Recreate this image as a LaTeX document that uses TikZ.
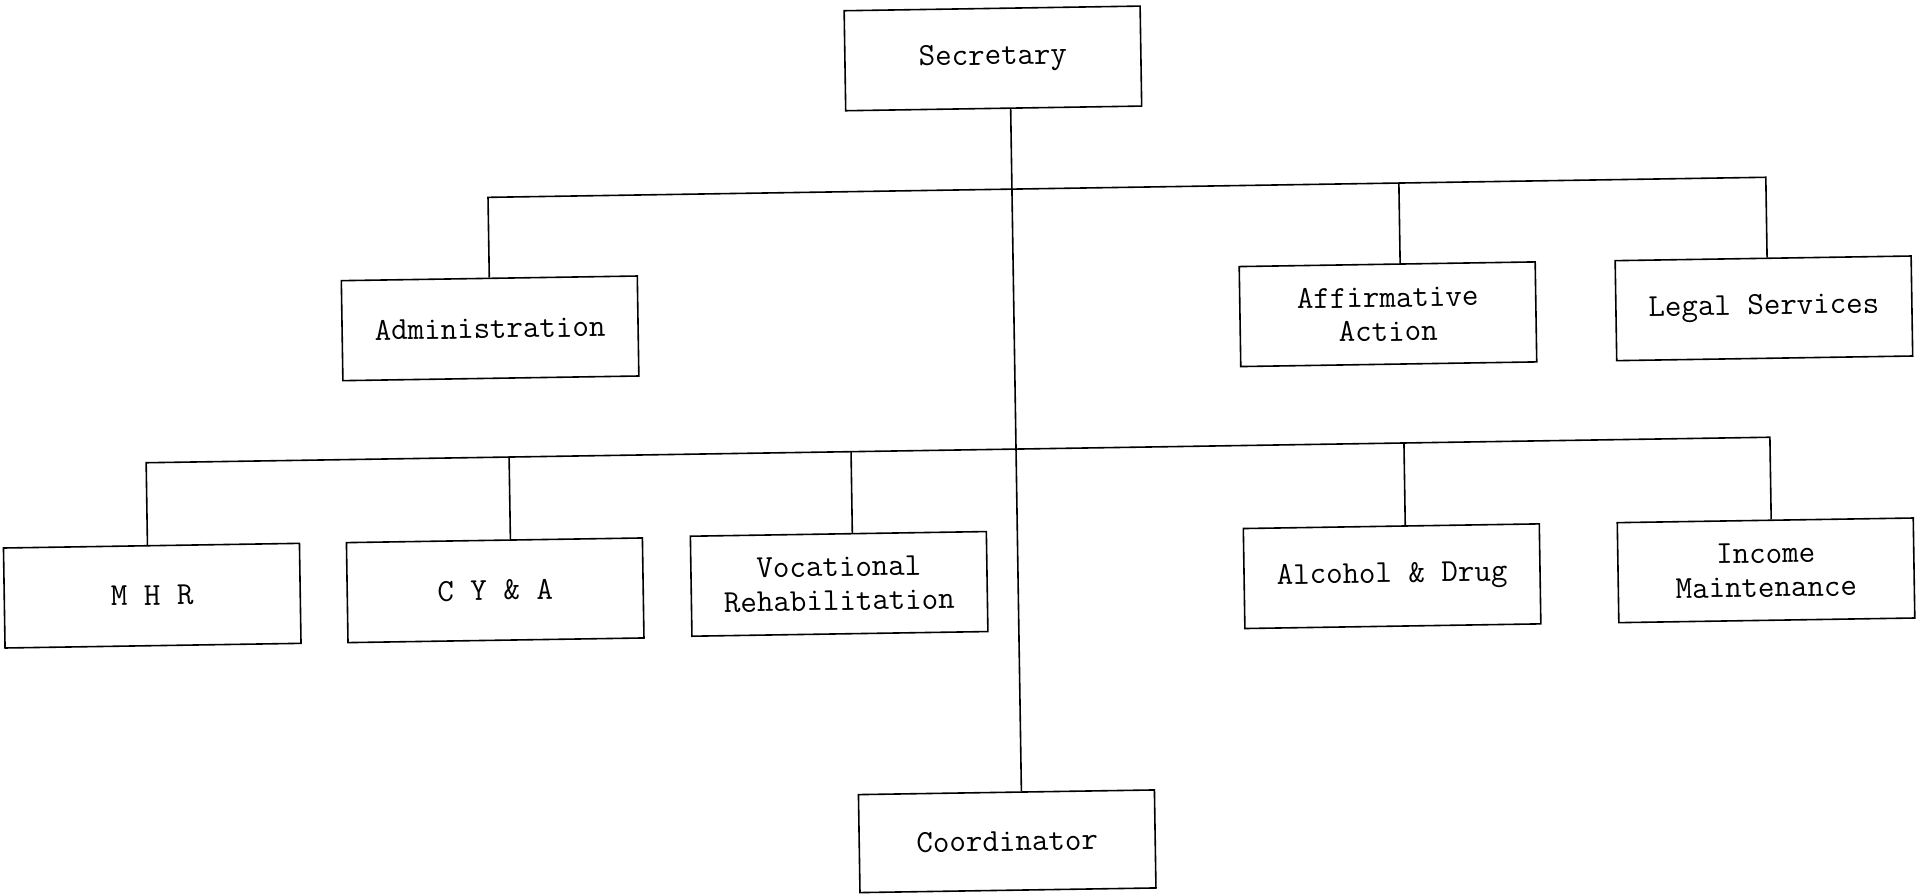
\documentclass[tikz,border=0pt]{standalone}
\usepackage{fontspec}
\begin{document}
\begin{tikzpicture}[x=1pt,y=-1pt,
  orgbox/.style={draw, line width=1.6pt, minimum width=296pt, minimum height=100pt,
    inner sep=0pt, align=center, font=\fontsize{32}{34}\selectfont\ttfamily},
  link/.style={line width=1.6pt}]
\useasboundingbox (0,0) rectangle (1916,894);
\begin{scope}[rotate around={0.9:(958,447)}, transform shape]
  % boxes
  \node[orgbox] (sec)   at (999,59)   {Secretary};
  \node[orgbox] (adm)   at (492,321)  {Administration};
  \node[orgbox] (aff)   at (1390,321) {Affirmative\\Action};
  \node[orgbox] (leg)   at (1766,321) {Legal Services};
  \node[orgbox] (mhr)   at (150,583)  {M H R};
  \node[orgbox] (cya)   at (493,583)  {C Y \& A};
  \node[orgbox] (voc)   at (837,582)  {Vocational\\Rehabilitation};
  \node[orgbox] (alc)   at (1390,583) {Alcohol \& Drug};
  \node[orgbox] (inc)   at (1764,583) {Income\\Maintenance};
  \node[orgbox, minimum height=98pt] (coo) at (1001,842) {Coordinator};
  % bus coordinates
  \coordinate (bus1) at (0,190);
  \coordinate (bus2) at (0,450);
  \coordinate (trunk) at (1016,0);
  % trunk
  \draw[link] (sec.south -| trunk) -- (coo.north -| trunk);
  % upper bus
  \draw[link] (adm.north) -- (adm.north |- bus1) -- ([xshift=4pt]leg.north |- bus1) -- ([xshift=4pt]leg.north);
  \draw[link] ([xshift=13pt]aff.north |- bus1) -- ([xshift=13pt]aff.north);
  % lower bus
  \draw[link] ([xshift=-4pt]mhr.north) -- ([xshift=-4pt]mhr.north |- bus2) -- ([xshift=6pt]inc.north |- bus2) -- ([xshift=6pt]inc.north);
  \draw[link] ([xshift=16pt]cya.north |- bus2) -- ([xshift=16pt]cya.north);
  \draw[link] ([xshift=14pt]voc.north |- bus2) -- ([xshift=14pt]voc.north);
  \draw[link] ([xshift=14pt]alc.north |- bus2) -- ([xshift=14pt]alc.north);
\end{scope}
\end{tikzpicture}
\end{document}
